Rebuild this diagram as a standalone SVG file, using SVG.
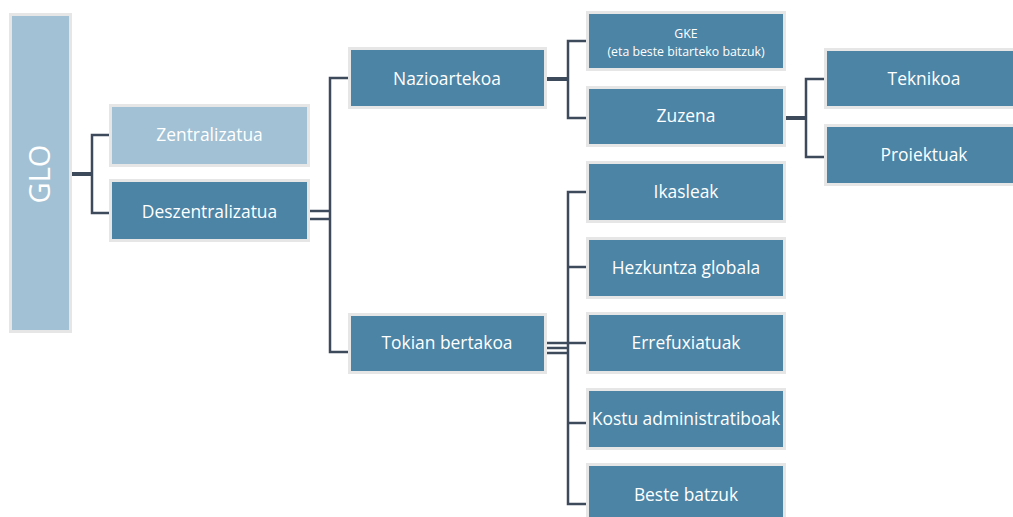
<svg xmlns="http://www.w3.org/2000/svg" width="1013" height="517" viewBox="0 0 1013 517">
<style>
.dark{fill:#4b84a5;stroke:#e6e6e6;stroke-width:3}
.light{fill:#a2c1d4;stroke:#e6e6e6;stroke-width:3}
.t{font-family:"Open Sans","Noto Sans",sans-serif;font-size:17.4px;fill:#ffffff;text-anchor:middle}
.s{font-family:"Open Sans","Noto Sans",sans-serif;font-size:12.3px;fill:#ffffff;text-anchor:middle}
.c{stroke:#3c4a5c;stroke-width:2.5;fill:none}
.ct{stroke:#3c4a5c;stroke-width:4;fill:none}
</style>
<rect width="1013" height="517" fill="#ffffff"/>
<g id="connectors">
<line class="ct" x1="71" y1="174" x2="92" y2="174"/>
<polyline class="c" points="109,135 92,135 92,213 109,213"/>
<line class="c" x1="310" y1="211" x2="330" y2="211"/>
<line class="c" x1="310" y1="219" x2="330" y2="219"/>
<polyline class="c" points="348,78 330,78 330,352 348,352"/>
<line class="ct" x1="546" y1="79" x2="568" y2="79"/>
<polyline class="c" points="586,41 568,41 568,118 586,118"/>
<line class="ct" x1="785" y1="118" x2="806" y2="118"/>
<polyline class="c" points="824,79 806,79 806,157 824,157"/>
<line class="c" x1="547" y1="343" x2="568" y2="343"/>
<line class="c" x1="547" y1="348" x2="568" y2="348"/>
<line class="c" x1="547" y1="353" x2="568" y2="353"/>
<polyline class="c" points="586,192 568,192 568,504 586,504"/>
<line class="c" x1="568" y1="267" x2="586" y2="267"/>
<line class="c" x1="568" y1="343" x2="586" y2="343"/>
<line class="c" x1="568" y1="423" x2="586" y2="423"/>
</g>
<g id="glo"><rect class="light" x="10.5" y="14.5" width="60" height="317"/><text transform="translate(50,174) rotate(-90)" font-family="Open Sans,Noto Sans,sans-serif" font-size="29" fill="#ffffff" text-anchor="middle">GLO</text></g>
<g id="zentralizatua"><rect class="light" x="110.5" y="105.5" width="198" height="60"/><text class="t" x="209.5" y="141">Zentralizatua</text></g>
<g id="deszentralizatua"><rect class="dark" x="110.5" y="180.5" width="198" height="60"/><text class="t" x="209.5" y="218">Deszentralizatua</text></g>
<g id="nazioartekoa"><rect class="dark" x="349.5" y="48.5" width="196" height="59"/><text class="t" x="447" y="85">Nazioartekoa</text></g>
<g id="tokian"><rect class="dark" x="349.5" y="314.5" width="196" height="58"/><text class="t" x="447" y="349">Tokian bertakoa</text></g>
<g id="gke"><rect class="dark" x="587.5" y="12.5" width="197" height="57"/><text class="s" x="686" y="38">GKE</text><text class="s" x="686" y="56">(eta beste bitarteko batzuk)</text></g>
<g id="zuzena"><rect class="dark" x="587.5" y="87.5" width="197" height="58"/><text class="t" x="686" y="122">Zuzena</text></g>
<g id="teknikoa"><rect class="dark" x="825.5" y="49.5" width="200" height="58"/><text class="t" x="924" y="85">Teknikoa</text></g>
<g id="proiektuak"><rect class="dark" x="825.5" y="125.5" width="200" height="59"/><text class="t" x="924" y="161">Proiektuak</text></g>
<g id="ikasleak"><rect class="dark" x="587.5" y="162.5" width="197" height="59"/><text class="t" x="686" y="198">Ikasleak</text></g>
<g id="hezkuntza"><rect class="dark" x="587.5" y="238.5" width="197" height="59"/><text class="t" x="686" y="274">Hezkuntza globala</text></g>
<g id="errefuxiatuak"><rect class="dark" x="587.5" y="313.5" width="197" height="59"/><text class="t" x="686" y="349">Errefuxiatuak</text></g>
<g id="kostu"><rect class="dark" x="587.5" y="389.5" width="197" height="59"/><text class="t" x="686" y="425">Kostu administratiboak</text></g>
<g id="beste"><rect class="dark" x="587.5" y="464.5" width="197" height="59"/><text class="t" x="686" y="501">Beste batzuk</text></g>
</svg>
